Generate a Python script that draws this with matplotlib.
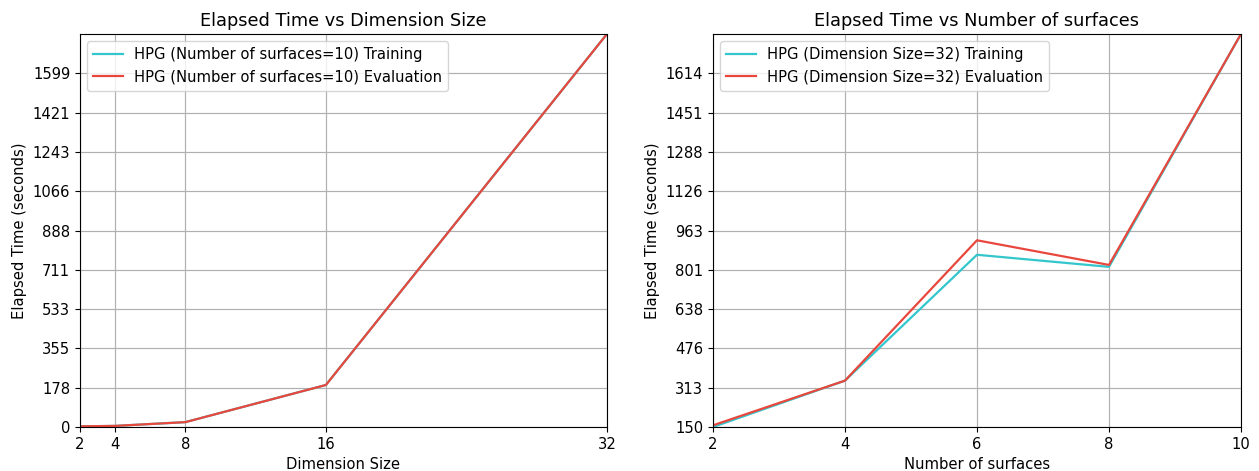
import matplotlib
matplotlib.use('Agg')
import matplotlib.pyplot as plt

# left panel: dimension size sweep (surfaces=10)
dims = [2, 4, 8, 16, 32]
dim_train = [3, 5, 22, 190, 1777]
dim_eval = [3, 5, 22, 190, 1777]
dim_yticks = [0, 178, 355, 533, 711, 888, 1066, 1243, 1421, 1599]

# right panel: number of surfaces sweep (dimension=32)
surfs = [2, 4, 6, 8, 10]
surf_train = [150, 342, 863, 813, 1777]
surf_eval = [157, 342, 923, 821, 1777]
surf_yticks = [150, 313, 476, 638, 801, 963, 1126, 1288, 1451, 1614]

c_train = '#33c6cc'
c_eval = '#e8473d'

plt.rcParams['font.size'] = 10.6

fig = plt.figure(figsize=(12.59, 4.71), dpi=100)
ax1 = fig.add_axes([0.0635, 0.0934, 0.4186, 0.8344])
ax2 = fig.add_axes([0.5663, 0.0934, 0.4194, 0.8344])

panels = [
    (ax1, dims, dim_train, dim_eval, dim_yticks, 'Number of surfaces=10',
     'Dimension Size', 'Elapsed Time vs Dimension Size', 0),
    (ax2, surfs, surf_train, surf_eval, surf_yticks, 'Dimension Size=32',
     'Number of surfaces', 'Elapsed Time vs Number of surfaces', 150),
]

for ax, x, tr, ev, yt, tag, xl, title, ymin in panels:
    ax.plot(x, tr, color=c_train, linewidth=1.6, label='HPG (%s) Training' % tag)
    ax.plot(x, ev, color=c_eval, linewidth=1.6, label='HPG (%s) Evaluation' % tag)
    ax.set_xlim(x[0], x[-1])
    ax.set_ylim(ymin, max(tr + ev))
    ax.set_xticks(x)
    ax.set_yticks(yt)
    ax.set_yticklabels([str(v) for v in yt])
    ax.grid(True, color='#b0b0b0', linewidth=0.85)
    ax.set_xlabel(xl)
    ax.set_ylabel('Elapsed Time (seconds)')
    ax.set_title(title, fontsize=12.8)
    ax.legend(loc='upper left', fontsize=10.6)

plt.savefig('out.png', dpi=100)
